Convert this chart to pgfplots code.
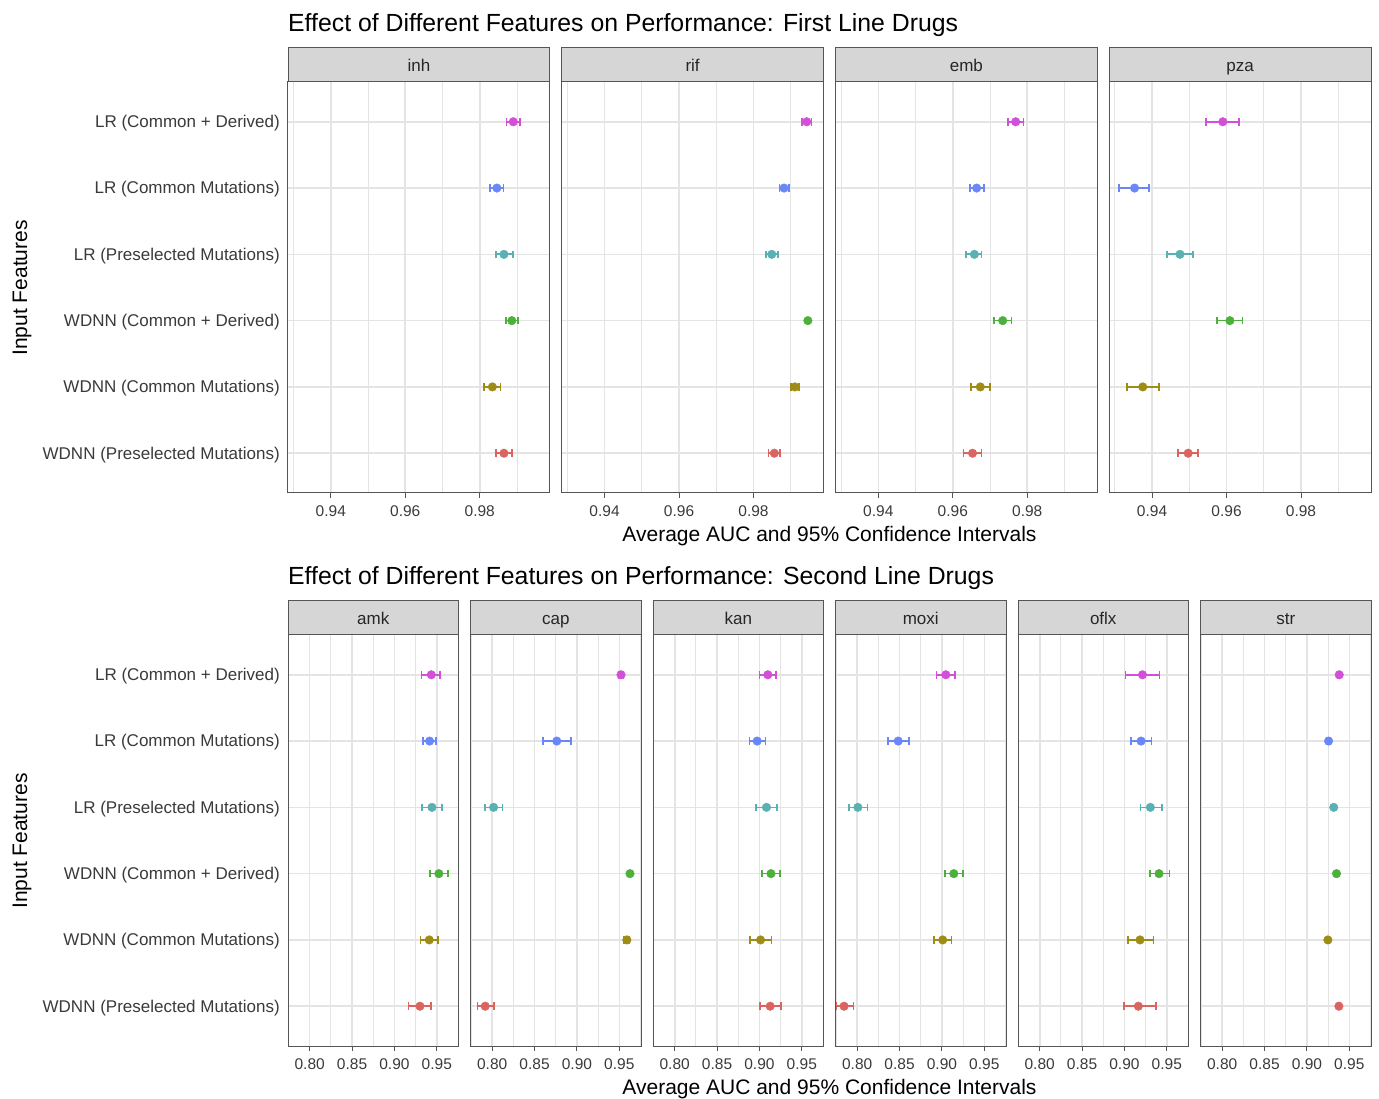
\documentclass[border=0pt]{standalone}
\usepackage{fontspec}
\setmainfont{Liberation Sans}
\usepackage{pgfplots}
\usepackage{pgfplotstable}
\pgfplotsset{compat=1.18}
\usetikzlibrary{calc}

\definecolor{cM}{HTML}{D24FD8}
\definecolor{cB}{HTML}{6A87F7}
\definecolor{cT}{HTML}{5AB0B3}
\definecolor{cG}{HTML}{4DB03B}
\definecolor{cO}{HTML}{9E8C16}
\definecolor{cR}{HTML}{DA6560}
\definecolor{gridc}{HTML}{E4E4E4}
\definecolor{frame}{HTML}{555555}
\definecolor{stripc}{HTML}{D6D6D6}
\definecolor{ticklab}{HTML}{3A3A3A}

% columns: y m lo hi ; rows top->bottom: LR(C+D), LR(Common), LR(Pre), WDNN(C+D), WDNN(Common), WDNN(Pre)
\pgfplotstableread{
y m lo hi
6 0.9890 0.9872 0.9908
5 0.9846 0.9828 0.9864
4 0.9865 0.9843 0.9889
3 0.9886 0.9870 0.9902
2 0.9834 0.9811 0.9856
1 0.9865 0.9843 0.9886
}\tinh
\pgfplotstableread{
y m lo hi
6 0.9943 0.9931 0.9956
5 0.9882 0.9870 0.9895
4 0.9849 0.9834 0.9866
3 0.9946 0.9942 0.9950
2 0.9911 0.9900 0.9923
1 0.9856 0.9840 0.9872
}\trif
\pgfplotstableread{
y m lo hi
6 0.9769 0.9748 0.9790
5 0.9664 0.9647 0.9683
4 0.9658 0.9636 0.9677
3 0.9734 0.9711 0.9758
2 0.9674 0.9648 0.9700
1 0.9653 0.9629 0.9677
}\temb
\pgfplotstableread{
y m lo hi
6 0.9590 0.9544 0.9634
5 0.9353 0.9312 0.9391
4 0.9475 0.9441 0.9509
3 0.9609 0.9575 0.9643
2 0.9375 0.9333 0.9418
1 0.9497 0.9469 0.9524
}\tpza
\pgfplotstableread{
y m lo hi
6 0.9435 0.9321 0.9541
5 0.9415 0.9341 0.9492
4 0.9443 0.9329 0.9561
3 0.9524 0.9423 0.9630
2 0.9411 0.9309 0.9516
1 0.9301 0.9167 0.9431
}\tamk
\pgfplotstableread{
y m lo hi
6 0.9520 0.9490 0.9550
5 0.8762 0.8599 0.8929
4 0.8016 0.7914 0.8122
3 0.9626 0.9596 0.9656
2 0.9589 0.9559 0.9619
1 0.7918 0.7825 0.8024
}\tcap
\pgfplotstableread{
y m lo hi
6 0.9099 0.9001 0.9197
5 0.8973 0.8883 0.9070
4 0.9083 0.8961 0.9209
3 0.9136 0.9034 0.9241
2 0.9013 0.8887 0.9144
1 0.9127 0.9005 0.9254
}\tkan
\pgfplotstableread{
y m lo hi
6 0.9046 0.8936 0.9156
5 0.8484 0.8362 0.8615
4 0.8008 0.7903 0.8122
3 0.9140 0.9038 0.9245
2 0.9009 0.8908 0.9112
1 0.7845 0.7756 0.7956
}\tmoxi
\pgfplotstableread{
y m lo hi
6 0.9213 0.9013 0.9412
5 0.9196 0.9074 0.9318
4 0.9306 0.9188 0.9440
3 0.9408 0.9298 0.9530
2 0.9184 0.9042 0.9343
1 0.9164 0.8997 0.9371
}\toflx
\pgfplotstableread{
y m lo hi
6 0.9381 0.9366 0.9396
5 0.9255 0.9240 0.9270
4 0.9316 0.9301 0.9331
3 0.9349 0.9334 0.9364
2 0.9247 0.9232 0.9262
1 0.9377 0.9362 0.9392
}\tstr

\pgfplotsset{
  errpt/.style={only marks, mark=*, mark size=4.3pt, color=#1,
    mark options={draw=none, fill=#1},
    error bars/.cd, x dir=both, x explicit, error mark=|,
    error bar style={line width=1.7pt, #1},
    error mark options={line width=1.7pt, mark size=3.8pt, #1, rotate=0},
    /pgfplots/.cd},
  facet/.style={scale only axis, height=411pt,
    ymin=0.4, ymax=6.6, ytick={1,...,6}, yticklabels={},
    xmajorgrids, xminorgrids, ymajorgrids,
    major grid style={gridc, line width=1.6pt},
    minor grid style={gridc, line width=0.9pt},
    axis line style={frame, line width=1pt},
    tick align=outside, tick pos=left,
    major tick length=5pt, minor tick length=0pt,
    major tick style={frame, line width=1pt},
    ytick style={draw=none},
    /pgf/number format/.cd, fixed, fixed zerofill, precision=2, assume math mode=true,
    /pgfplots/.cd,
    xticklabel style={font=\fontsize{15.5}{18}\selectfont, text=ticklab, inner sep=2pt, yshift=-5pt},
    yticklabel style={font=\fontsize{17}{20}\selectfont, text=ticklab, inner sep=2pt, xshift=-1pt, yshift=-1.5pt},
    clip=false},
  toprow/.style={facet, width=261.75pt, xmin=0.9285, xmax=0.9988,
    xtick={0.94,0.96,0.98}, minor xtick={0.93,0.95,0.97,0.99}},
  botrow/.style={facet, width=170.5pt, xmin=0.7744, xmax=0.9756,
    xtick={0.80,0.85,0.90,0.95}, minor xtick={0.775,0.825,0.875,0.925,0.975}},
  firstcol/.style={yticklabels={WDNN (Preselected Mutations), WDNN (Common Mutations), WDNN (Common + Derived), LR (Preselected Mutations), LR (Common Mutations), LR (Common + Derived)},
    ytick style={frame, line width=1pt}},
}

\newcommand{\onept}[3]{\addplot[errpt=#2, restrict y to domain=#3:#3] table[x=m, y=y, x error plus expr=\thisrow{hi}-\thisrow{m}, x error minus expr=\thisrow{m}-\thisrow{lo}] {#1};}
\newcommand{\allpts}[1]{%
  \onept{#1}{cR}{1}
  \onept{#1}{cO}{2}
  \onept{#1}{cG}{3}
  \onept{#1}{cT}{4}
  \onept{#1}{cB}{5}
  \onept{#1}{cM}{6}
}
\newcommand{\strip}[2]{%
  \draw[fill=stripc, draw=frame, line width=1pt] (#1.north west) rectangle ([yshift=34pt]#1.north east);
  \node[anchor=base, font=\fontsize{17}{20}\selectfont, text=black!85, inner sep=0pt] at ([yshift=10pt]$(#1.north west)!0.5!(#1.north east)$) {#2};
}

\begin{document}
\begin{tikzpicture}
\useasboundingbox (0,0) rectangle (1379pt,1098pt);

% ---------- Top row ----------
\begin{axis}[toprow, firstcol, name=a1, at={(288pt,605pt)}, anchor=south west]
\allpts{\tinh}
\end{axis}
\begin{axis}[toprow, name=a2, at={(561.75pt,605pt)}, anchor=south west]
\allpts{\trif}
\end{axis}
\begin{axis}[toprow, name=a3, at={(835.5pt,605pt)}, anchor=south west]
\allpts{\temb}
\end{axis}
\begin{axis}[toprow, name=a4, at={(1109.25pt,605pt)}, anchor=south west]
\allpts{\tpza}
\end{axis}
\strip{a1}{inh}
\strip{a2}{rif}
\strip{a3}{emb}
\strip{a4}{pza}

% ---------- Bottom row ----------
\begin{axis}[botrow, firstcol, name=b1, at={(288pt,52pt)}, anchor=south west]
\allpts{\tamk}
\end{axis}
\begin{axis}[botrow, name=b2, at={(470.5pt,52pt)}, anchor=south west]
\allpts{\tcap}
\end{axis}
\begin{axis}[botrow, name=b3, at={(653pt,52pt)}, anchor=south west]
\allpts{\tkan}
\end{axis}
\begin{axis}[botrow, name=b4, at={(835.5pt,52pt)}, anchor=south west]
\allpts{\tmoxi}
\end{axis}
\begin{axis}[botrow, name=b5, at={(1018pt,52pt)}, anchor=south west]
\allpts{\toflx}
\end{axis}
\begin{axis}[botrow, name=b6, at={(1200.5pt,52pt)}, anchor=south west]
\allpts{\tstr}
\end{axis}
\strip{b1}{amk}
\strip{b2}{cap}
\strip{b3}{kan}
\strip{b4}{moxi}
\strip{b5}{oflx}
\strip{b6}{str}

% ---------- titles and labels ----------
\node[anchor=base west, inner sep=0pt, font=\fontsize{24.8}{28}\selectfont] at (288pt,1066pt) {Effect of Different Features on Performance: First Line Drugs};
\node[anchor=base west, inner sep=0pt, font=\fontsize{24.8}{28}\selectfont] at (288pt,513pt) {Effect of Different Features on Performance: Second Line Drugs};
\node[anchor=base, font=\fontsize{21}{24}\selectfont] at (829.5pt,556pt) {Average AUC and 95\% Confidence Intervals};
\node[anchor=base, font=\fontsize{21}{24}\selectfont] at (829.5pt,4pt) {Average AUC and 95\% Confidence Intervals};
\node[rotate=90, anchor=base, font=\fontsize{21}{24}\selectfont] at (27pt,810pt) {Input Features};
\node[rotate=90, anchor=base, font=\fontsize{21}{24}\selectfont] at (27pt,257pt) {Input Features};
\end{tikzpicture}
\end{document}
